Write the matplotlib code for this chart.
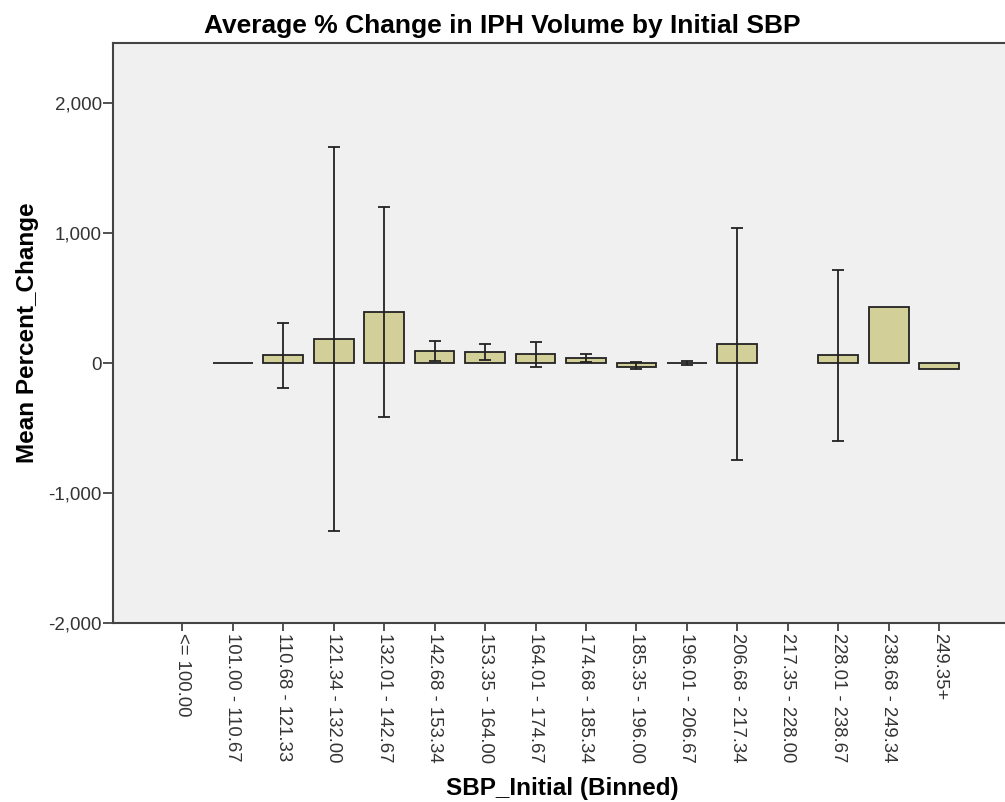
import numpy as np
import matplotlib
matplotlib.use("Agg")
import matplotlib.pyplot as plt

plt.rcParams['font.family'] = ['Liberation Sans', 'DejaVu Sans']

# bins of SBP_Initial
bins = ["<= 100.00", "101.00 - 110.67", "110.68 - 121.33", "121.34 - 132.00",
        "132.01 - 142.67", "142.68 - 153.34", "153.35 - 164.00", "164.01 - 174.67",
        "174.68 - 185.34", "185.35 - 196.00", "196.01 - 206.67", "206.68 - 217.34",
        "217.35 - 228.00", "228.01 - 238.67", "238.68 - 249.34", "249.35+"]

# mean percent change per bin (nan = no data)
means = [np.nan, 2, 60, 185, 392, 92, 85, 70, 38, -28, 2, 146, np.nan, 62, 430, -45]
# error bar ends (95% CI); nan = no error bar
ci_low = [np.nan, np.nan, -190, -1292, -415, 15, 23, -31, 8, -46, -12, -746, np.nan, -600, np.nan, np.nan]
ci_high = [np.nan, np.nan, 308, 1662, 1200, 169, 146, 162, 69, 8, 15, 1038, np.nan, 715, np.nan, np.nan]

x = np.arange(len(bins))
means = np.array(means, dtype=float)
lo = np.array(ci_low, dtype=float)
hi = np.array(ci_high, dtype=float)

fig = plt.figure(figsize=(10.05, 8.02), dpi=100)
ax = fig.add_axes([0.1124, 0.2232, 0.8876, 0.7232])
ax.set_facecolor('#f0f0f0')

has_bar = ~np.isnan(means)
ax.bar(x[has_bar], means[has_bar], width=0.79, color='#d3cf98', edgecolor='#222222',
       linewidth=1.3, zorder=2)

has_err = ~np.isnan(lo)
ax.errorbar(x[has_err], means[has_err],
            yerr=[means[has_err] - lo[has_err], hi[has_err] - means[has_err]],
            fmt='none', ecolor='#222222', elinewidth=1.3, capsize=4.5, capthick=1.3, zorder=3)

ax.set_xlim(-1.37, 16.3)
ax.set_ylim(-2000, 2462)
ax.set_yticks([-2000, -1000, 0, 1000, 2000])
ax.set_yticklabels(["-2,000", "-1,000", "0", "1,000", "2,000"], fontsize=13.5, color='#333333')
ax.set_xticks(x)
ax.set_xticklabels(bins, rotation=270, fontsize=13.3, color='#333333', ha='center', va='top')

ax.tick_params(axis='x', direction='out', length=6, width=1.2, color='#333333', pad=1)
ax.tick_params(axis='y', direction='out', length=7.5, width=1.2, color='#333333', pad=0.5)
for s in ['left', 'bottom', 'top']:
    ax.spines[s].set_linewidth(1.5)
    ax.spines[s].set_color('#444444')
ax.spines['right'].set_visible(False)

ax.set_ylabel("Mean Percent_Change", fontsize=17.5, fontweight='bold', labelpad=7)
fig.text(0.56, 0.002, "SBP_Initial (Binned)", fontsize=17.5, fontweight='bold', ha='center', va='bottom')
fig.text(0.5, 0.968, "Average % Change in IPH Volume by Initial SBP", fontsize=19,
         fontweight='bold', ha='center', va='center')

fig.savefig("out.png", dpi=100)
